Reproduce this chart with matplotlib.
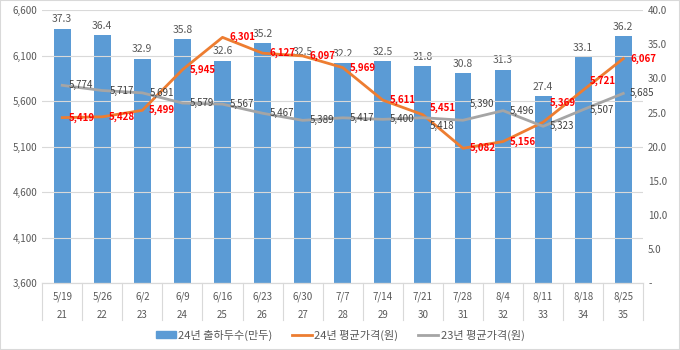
import matplotlib.pyplot as plt
from matplotlib.ticker import FuncFormatter
from matplotlib.lines import Line2D
from matplotlib.patches import Patch, Rectangle

plt.rcParams['font.family'] = ['Noto Sans CJK KR', 'DejaVu Sans']

# 데이터
dates = ['5/19', '5/26', '6/2', '6/9', '6/16', '6/23', '6/30', '7/7',
         '7/14', '7/21', '7/28', '8/4', '8/11', '8/18', '8/25']
weeks = ['21', '22', '23', '24', '25', '26', '27', '28',
         '29', '30', '31', '32', '33', '34', '35']
heads_24 = [37.3, 36.4, 32.9, 35.8, 32.6, 35.2, 32.5, 32.2,
            32.5, 31.8, 30.8, 31.3, 27.4, 33.1, 36.2]
price_24 = [5419, 5428, 5499, 5945, 6301, 6127, 6097, 5969,
            5611, 5451, 5082, 5156, 5369, 5721, 6067]
price_23 = [5774, 5717, 5691, 5579, 5567, 5467, 5389, 5417,
            5400, 5418, 5390, 5496, 5323, 5507, 5685]

# 라벨 위치 보정 (세로 오프셋, pt)
dy_24 = [0, 0, 0, 0, 0, 0, 0, 0, 0, 5, 0, 0, 14, 7, 0]
dy_23 = [0, 0, 0, 0, 0, 0, 0, 0, 0, -6, 12, 0, 0, 0, 0]

blue = '#5B9BD5'
orange = '#ED7D31'
gray = '#A5A5A5'

fig = plt.figure(figsize=(6.8, 3.5), dpi=100)
ax = fig.add_axes([0.062, 0.191, 0.884, 0.78])
ax2 = ax.twinx()

x = list(range(len(dates)))

# 왼쪽 축: 가격
ax.set_ylim(3600, 6600)
ax.set_yticks(range(3600, 6601, 500))
ax.yaxis.set_major_formatter(FuncFormatter(lambda v, p: f'{int(v):,}'))
ax.grid(axis='y', color='#D9D9D9', linewidth=0.8)
ax.set_axisbelow(True)
ax.set_xlim(-0.5, len(dates) - 0.5)
ax.set_xticks([])

# 오른쪽 축: 출하두수
ax2.set_ylim(0, 40)
ax2.set_yticks(range(0, 41, 5))
ax2.yaxis.set_major_formatter(FuncFormatter(lambda v, p: '-' if v == 0 else f'{v:.1f}'))

for a in (ax, ax2):
    for s in ['top', 'left', 'right']:
        a.spines[s].set_visible(False)
    a.spines['bottom'].set_color('#D9D9D9')
    a.tick_params(length=0, labelsize=7, colors='#595959')

# 막대는 오른쪽 축, 선은 왼쪽 축 위에
ax.set_zorder(ax2.get_zorder() + 1)
ax.patch.set_visible(False)

ax2.bar(x, heads_24, width=0.42, color=blue, zorder=2)
for i, v in enumerate(heads_24):
    ax2.annotate(f'{v:.1f}', (i, v), xytext=(0, 3), textcoords='offset points',
                 ha='center', va='bottom', fontsize=7.5, color='#595959')

ax.plot(x, price_24, color=orange, linewidth=2, zorder=3)
ax.plot(x, price_23, color=gray, linewidth=2, zorder=3)
for i, v in enumerate(price_24):
    ax.annotate(f'{v:,}', (i, v), xytext=(5, dy_24[i]), textcoords='offset points',
                ha='left', va='center', fontsize=7, color='#FF0000',
                fontweight='bold', zorder=4)
for i, v in enumerate(price_23):
    ax.annotate(f'{v:,}', (i, v), xytext=(5, dy_23[i]), textcoords='offset points',
                ha='left', va='center', fontsize=7, color='#404040', zorder=4)

# 2단 카테고리 라벨
trans = ax.get_xaxis_transform()
for i in x:
    ax.text(i, -0.048, dates[i], transform=trans, ha='center', va='center',
            fontsize=7, color='#595959', clip_on=False)
    ax.text(i, -0.118, weeks[i], transform=trans, ha='center', va='center',
            fontsize=7, color='#595959', clip_on=False)
for b in range(len(dates) + 1):
    ax.add_line(Line2D([b - 0.5, b - 0.5], [0, -0.135], transform=trans,
                       color='#D9D9D9', linewidth=0.8, clip_on=False))

handles = [Patch(color=blue), Line2D([], [], color=orange, linewidth=2),
           Line2D([], [], color=gray, linewidth=2)]
labels = ['24년 출하두수(만두)', '24년 평균가격(원)', '23년 평균가격(원)']
fig.legend(handles, labels, loc='center', bbox_to_anchor=(0.5, 0.043), ncol=3,
           frameon=False, fontsize=8, labelcolor='#595959', handlelength=1.8,
           handletextpad=0.2, columnspacing=1.8)

fig.patches.append(Rectangle((0, 0), 1, 1, transform=fig.transFigure, fill=False,
                             edgecolor='#D9D9D9', linewidth=1.5))

plt.savefig('out.png', dpi=100)
